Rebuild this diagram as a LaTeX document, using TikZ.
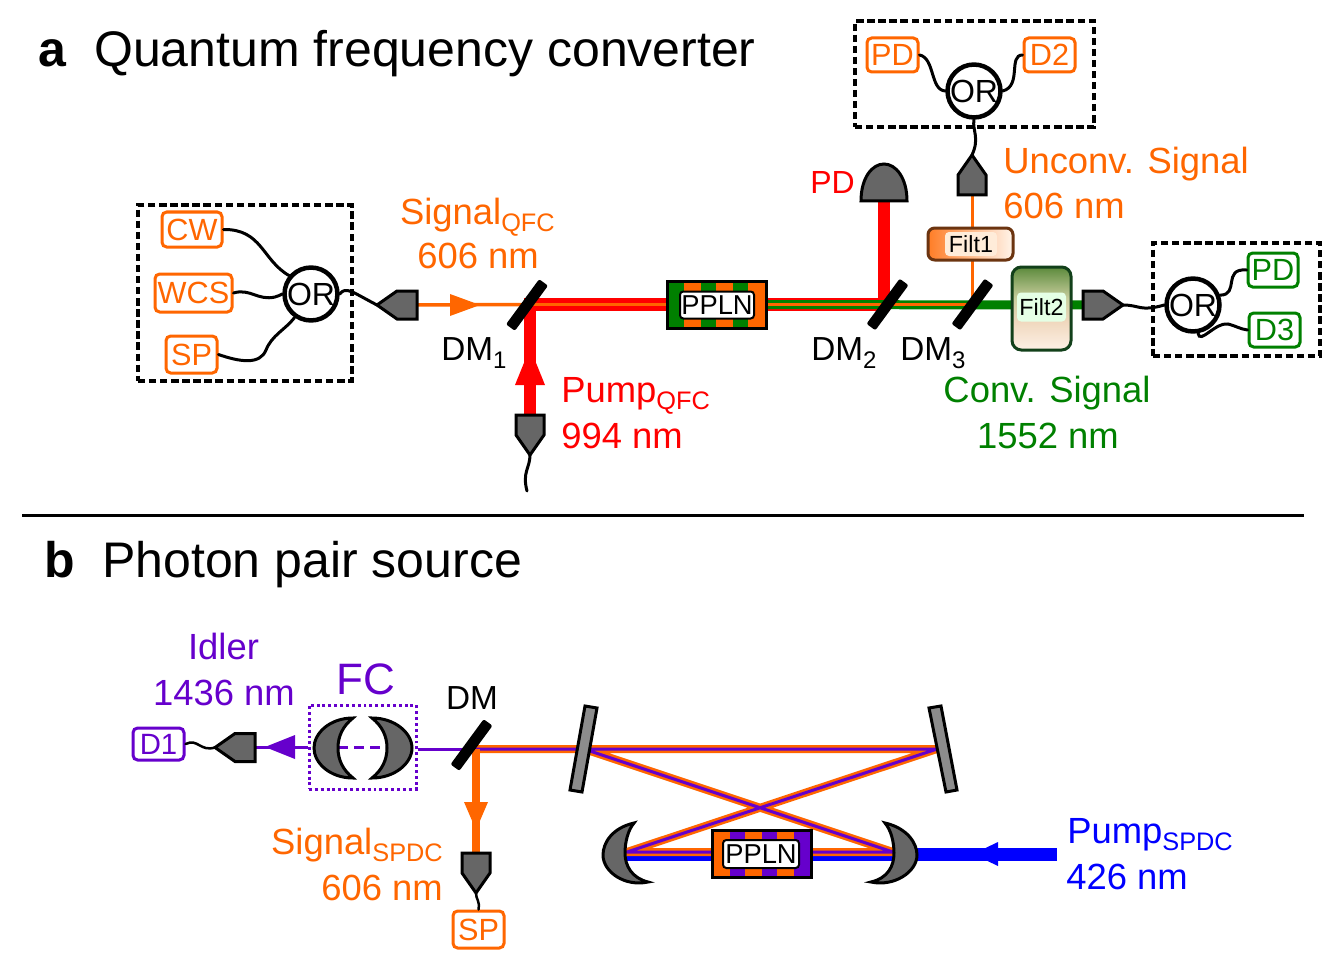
\documentclass[tikz,border=0pt]{standalone}
\usepackage{fontspec}
\setmainfont{Liberation Sans}
\definecolor{qorange}{HTML}{FF6600}
\definecolor{qred}{HTML}{FF0000}
\definecolor{qgreen}{HTML}{008000}
\definecolor{qviolet}{HTML}{6600CC}
\definecolor{qblue}{HTML}{0000FF}
\definecolor{qgrey}{HTML}{666666}
\definecolor{filtbrown}{HTML}{6B3410}
\definecolor{filtgreen}{HTML}{12401A}
\definecolor{filttop}{HTML}{5C8A3C}
\definecolor{filtmid}{HTML}{C9CE9E}
\definecolor{filttan}{HTML}{F0D8BE}
\definecolor{filtlow}{HTML}{FDF1E6}
\pgfdeclarelayer{beam}
\pgfsetlayers{beam,main}
\pgfdeclareverticalshading{filttwoshade}{100bp}{
  color(0bp)=(filtlow);
  color(25bp)=(filtlow);
  color(42bp)=(filttan);
  color(56bp)=(filtmid);
  color(75bp)=(filttop);
  color(100bp)=(filttop)}
\tikzset{
  wh/.style 2 args={minimum width=#1*0.75pt,minimum height=#2*0.75pt,inner sep=0pt},
  lw/.style={line width=#1*0.75pt},
  devbox/.style={draw=#1,text=#1,fill=white,lw=3,rounded corners=3.5pt,font=\fontsize{23pt}{23pt}\selectfont},
  orbox/.style={circle,draw=black,fill=white,lw=4.5,minimum size=51*0.75pt,inner sep=0pt,font=\fontsize{24pt}{24pt}\selectfont},
  encl/.style={draw=black,lw=3.5,dash pattern=on 5.5pt off 2.8pt,fill=none},
  fibre/.style={draw=black,lw=3,line cap=round},
  grey body/.style={draw=black,fill=qgrey,lw=3,line join=miter},
  label/.style={anchor=base west,inner sep=0pt,font=\fontsize{27.3pt}{27.3pt}\selectfont},
  labelr/.style={label,anchor=base east},
  labelc/.style={label,anchor=base},
  crystal/.style={draw=black,lw=3,fill=none,wh={99}{47}},
  crystal text/.style={draw=black,fill=white,lw=2,rounded corners=2.5pt,font=\fontsize{20.5pt}{20.5pt}\selectfont},
  filter text/.style={inner sep=0pt,rounded corners=3pt,font=\fontsize{17.5pt}{17.5pt}\selectfont},
  heading/.style={label,font=\fontsize{37.5pt}{37.5pt}\selectfont},
}
% fibre coupler: name, base point, direction of the tip
\newcommand{\coupler}[3]{%
  \begin{scope}[shift={(#2)},rotate=#3]
    \draw[grey body] (0,-14)--(20,-14)--(40,0)--(20,14)--(0,14)--cycle;
    \coordinate (#1-base) at (0,0);
    \coordinate (#1-tip) at (40,0);
  \end{scope}}
% dichroic mirror plate
\newcommand{\plate}[2]{%
  \fill[black,shift={(#2)},rotate=53.7,rounded corners=1.5pt] (-28,-5.5) rectangle (28,5.5);
  \coordinate (#1) at (#2);}
\newcommand{\subt}[1]{\raisebox{-5.5pt}{\fontsize{19pt}{19pt}\selectfont #1}}
\newcommand{\subdm}[1]{\raisebox{-6pt}{\fontsize{18pt}{18pt}\selectfont #1}}
\begin{document}
\begin{tikzpicture}[x=0.75pt,y=-0.75pt]
\useasboundingbox (0,0) rectangle (1342,970);

% --- panel headings ---
\node[heading,font=\fontsize{37.5pt}{37.5pt}\selectfont\bfseries] (heada) at (38,67) {a};
\node[heading] (titlea) at (94,67) {Quantum frequency converter};
\node[heading,font=\fontsize{37.5pt}{37.5pt}\selectfont\bfseries] (headb) at (44,577) {b};
\node[heading] (titleb) at (102,577) {Photon pair source};
\coordinate (divl) at (22,515);
\coordinate (divr) at (1304,515);
\draw[lw=3] (divl) -- (divr);

% --- source module ---
\node[encl,wh={214}{176}] (srcbox) at (245,293) {};
\node[devbox=qorange,wh={60}{35}] (cw) at (192,229.5) {CW};
\node[devbox=qorange,wh={77}{38}] (wcs) at (193.5,293) {WCS};
\node[devbox=qorange,wh={51}{37}] (sp) at (191.5,354.5) {SP};
\node[orbox] (or1) at (311,294) {OR};
\draw[fibre] (cw.east) .. controls (262,229) and (262,260) .. (or1.140);
\draw[fibre] (wcs.east) .. controls (250,288) and (258,301) .. (275,297) .. controls (278,296) and (281,295) .. (or1.west);
\draw[fibre] (sp.east) .. controls (240,362) and (260,365) .. (266,350) .. controls (272,335) and (285,330) .. (or1.235);

\coupler{cin}{417,305}{180}
\draw[fibre] (or1.east) .. controls (346,286) and (352,292) .. (cin-tip);

% --- frequency converter beam line ---
\plate{dmone}{527,305}
\plate{dmtwo}{887.5,304.5}
\plate{dmthree}{972.5,304.5}
\coordinate (cornerone) at (530,304.5);
\coordinate (cornertwo) at (884,304.5);
\coordinate (cornerthree) at (972,304.5);
\coordinate (pdtop) at (884,200);

\fill[qgreen] (667,281) rectangle (684,328);
\fill[qorange] (684,281) rectangle (701,328);
\fill[qgreen] (701,281) rectangle (716,328);
\fill[qorange] (716,281) rectangle (733,328);
\fill[qgreen] (733,281) rectangle (748,328);
\fill[qorange] (748,281) rectangle (767,328);
\node[crystal] (pplna) at (717,304.5) {};
\node[crystal text,wh={74}{27}] (pplnalab) at (717,305) {PPLN};

\coupler{cpump}{530,415}{-90}
\coordinate (pumpend) at (527,491);
\draw[fibre] (cpump-tip) .. controls (530,468) and (522,472) .. (pumpend);

\draw[grey body] (861,201) .. controls (861,178) and (872,164) .. (884,164)
   .. controls (896,164) and (907,178) .. (907,201) -- cycle;
\coupler{cup}{972,195}{90}
\coupler{cconv}{1083,305}{0}

\begin{pgfonlayer}{beam}
  \draw[qorange,lw=3.5] (cin-base) -- (cornerone);
  \draw[qred,lw=12.5,line join=miter] (cpump-base) -- (cornerone) -- (cornertwo) -- (pdtop);
  \draw[qorange,lw=3.5] (cornerone) -- (pplna);
  \draw[qgreen,lw=9] (pplna) -- (cconv-base);
  \draw[qorange,lw=3] (pplna) -- (cornerthree);
  \draw[qorange,lw=3] (cornerthree) -- (cup-base);
\end{pgfonlayer}
\fill[qred] (530,348) -- (545,385) -- (515,385) -- cycle;
\fill[qorange] (480,305) -- (450,294) -- (450,316) -- cycle;

% --- filters ---
\node[draw=filtbrown,lw=3,rounded corners=5pt,left color=qorange!85!white,right color=white!92!orange,wh={85}{32}] (filtone) at (970.5,244) {};
\node[filter text,fill=white!85!orange,wh={52}{24}] (filtonelab) at (971,244) {Filt1};
\node[draw=filtgreen,lw=3,rounded corners=7pt,shading=filttwoshade,wh={59}{83}] (filttwo) at (1041.5,308.5) {};
\node[filter text,fill=green!10!white,wh={49}{29}] (filttwolab) at (1041.5,307) {Filt2};

% --- detection modules ---
\node[encl,wh={239}{106}] (upbox) at (974.5,74) {};
\node[devbox=qorange,wh={51}{34}] (pdup) at (892.5,55) {PD};
\node[devbox=qorange,wh={51}{34}] (dtwo) at (1049.5,55) {D2};
\node[orbox] (or2) at (974,91) {OR};
\draw[fibre] (pdup.east) .. controls (935,58) and (930,90) .. (or2.west);
\draw[fibre] (dtwo.west) .. controls (1008,55) and (1022,86) .. (or2.east);
\draw[fibre] (cup-tip) .. controls (980,138) and (972,130) .. (or2.south);

\node[encl,wh={167}{113}] (rtbox) at (1236.5,299.5) {};
\node[orbox] (or3) at (1193,305) {OR};
\node[devbox=qgreen,wh={50}{34}] (pdgr) at (1273,270) {PD};
\node[devbox=qgreen,wh={51}{34}] (dthree) at (1274.5,330) {D3};
\draw[fibre] (cconv-tip) .. controls (1140,305) and (1140,312) .. (or3.west);
\draw[fibre] (or3.20) .. controls (1240,295) and (1222,268) .. (pdgr.west);
\draw[fibre] (or3.-80) .. controls (1200,345) and (1215,322) .. (1228,324) .. controls (1236,326) and (1240,329) .. (dthree.west);

% --- pair source: cavity beams ---
\coordinate (cavtr) at (937,749);
\coordinate (cavlo) at (627,852);
\coordinate (cavro) at (893,852);
\coordinate (cavtl) at (590,751);
\coordinate (dmcorner) at (476,749);
\coordinate (pumpin) at (1057,854);
\begin{pgfonlayer}{beam}
  \draw[qblue,lw=13] (pumpin) -- (cavlo |- pumpin);
  \draw[qorange,lw=8,line join=round] (dmcorner) -- (cavtr) -- (cavlo) -- (cavro) -- (cavtl);
  \draw[qviolet,lw=3,line join=round] (dmcorner) -- (cavtr) -- (cavlo) -- (cavro) -- (cavtl);
\end{pgfonlayer}
\fill[qblue] (973,854) -- (998,842) -- (998,866) -- cycle;

% flat cavity mirrors
\draw[draw=black,fill=gray!90,lw=3,line join=miter] (585,706) -- (597,708) -- (582,792) -- (570,790) -- cycle;
\draw[draw=black,fill=gray!90,lw=3,line join=miter] (929,708) -- (941,706) -- (957,790) -- (946,792) -- cycle;

% curved cavity mirrors
\draw[grey body] (634,823) .. controls (612,828) and (603,843) .. (603,855)
   .. controls (603,872) and (625,887) .. (648,882)
   .. controls (632,878) and (625,866) .. (625,853)
   .. controls (625,842) and (628,830) .. (634,823) -- cycle;
\draw[grey body] (885,823) .. controls (907,828) and (917,843) .. (917,855)
   .. controls (917,872) and (894,887) .. (871,882)
   .. controls (888,878) and (894,866) .. (894,853)
   .. controls (894,842) and (891,830) .. (885,823) -- cycle;

\fill[qorange] (712,831) rectangle (730,877);
\fill[qviolet] (730,831) rectangle (745,877);
\fill[qorange] (745,831) rectangle (762,877);
\fill[qviolet] (762,831) rectangle (777,877);
\fill[qorange] (777,831) rectangle (794,877);
\fill[qviolet] (794,831) rectangle (811,877);
\node[crystal] (pplnb) at (761.5,854) {};
\node[crystal text,wh={76}{28}] (pplnblab) at (761,854) {PPLN};

% --- pair source: idler arm ---
\plate{dmpair}{471.5,745}
\node[draw=qviolet,lw=3,dash pattern=on 2.2pt off 2.2pt,wh={107}{84}] (fcbox) at (362.5,747) {};
\draw[grey body] (353,718) .. controls (330,718) and (314,733) .. (314,748)
   .. controls (314,763) and (330,778) .. (353,778)
   .. controls (343,770) and (338,760) .. (338,748)
   .. controls (338,736) and (343,726) .. (353,718) -- cycle;
\draw[grey body] (372,718) .. controls (395,718) and (412,733) .. (412,748)
   .. controls (412,763) and (395,778) .. (372,778)
   .. controls (382,770) and (387,760) .. (387,748)
   .. controls (387,736) and (382,726) .. (372,718) -- cycle;
\coupler{cidler}{255,747.5}{180}
\node[devbox=qviolet,wh={51}{32},font=\fontsize{22pt}{22pt}\selectfont] (done) at (158.5,744) {D1};
\draw[fibre,lw=2.5] (done.east) .. controls (198,738) and (200,752) .. (cidler-tip);
\begin{pgfonlayer}{beam}
  \draw[qviolet,lw=3] (dmcorner) -- (fcbox.east |- dmcorner);
  \draw[qviolet,lw=3] (fcbox.west |- cidler-base) -- (cidler-base);
  \draw[qviolet,lw=3,dash pattern=on 7.5pt off 4.5pt] (338,747) -- (387,747);
\end{pgfonlayer}
\fill[qviolet] (265,747) -- (295,735) -- (295,759) -- cycle;

% --- pair source: signal arm ---
\coupler{csig}{476,853}{-90}
\node[devbox=qorange,wh={51}{37}] (spb) at (478.5,929.5) {SP};
\draw[fibre,lw=2.5] (csig-tip) .. controls (476,900) and (480,900) .. (spb.north);
\begin{pgfonlayer}{beam}
  \draw[qorange,lw=7.5] (dmcorner) -- (csig-base);
\end{pgfonlayer}
\fill[qorange] (476,830) -- (464,802) -- (488,802) -- cycle;

% --- text labels ---
\node[labelr,text=qorange] (lsiga) at (555,224) {Signal\subt{QFC}};
\node[labelc,text=qorange] (lsigb) at (478,268) {606 nm};
\node[label,text=qred] (lpa) at (561,402) {Pump\subt{QFC}};
\node[label,text=qred] (lpb) at (561,448) {994 nm};
\node[label,text=qred,font=\fontsize{24pt}{24pt}\selectfont] (lpd) at (810,194) {PD};
\node[label,text=qorange] (luna) at (1003,174) {Unconv. Signal};
\node[label,text=qorange] (lunb) at (1003,219) {606 nm};
\node[labelc,text=qgreen] (lca) at (1047,402) {Conv. Signal};
\node[labelc,text=qgreen] (lcb) at (1048,448) {1552 nm};
\node[label,font=\fontsize{25pt}{25pt}\selectfont] (ldmone) at (441,360) {DM\subdm{1}};
\node[label,font=\fontsize{25pt}{25pt}\selectfont] (ldmtwo) at (811,360) {DM\subdm{2}};
\node[label,font=\fontsize{25pt}{25pt}\selectfont] (ldmthree) at (900,360) {DM\subdm{3}};
\node[labelc,text=qviolet] (lid) at (223.5,659) {Idler};
\node[labelc,text=qviolet] (lidb) at (224,705) {1436 nm};
\node[labelc,text=qviolet,font=\fontsize{33pt}{33pt}\selectfont] (lfc) at (366,694) {FC};
\node[labelc,font=\fontsize{25pt}{25pt}\selectfont] (ldm) at (472,709) {DM};
\node[labelr,text=qorange] (lss) at (443,854) {Signal\subt{SPDC}};
\node[labelr,text=qorange] (lssb) at (443,900) {606 nm};
\node[label,text=qblue] (lps) at (1067,843) {Pump\subt{SPDC}};
\node[label,text=qblue] (lpsb) at (1066,889) {426 nm};
\end{tikzpicture}
\end{document}
